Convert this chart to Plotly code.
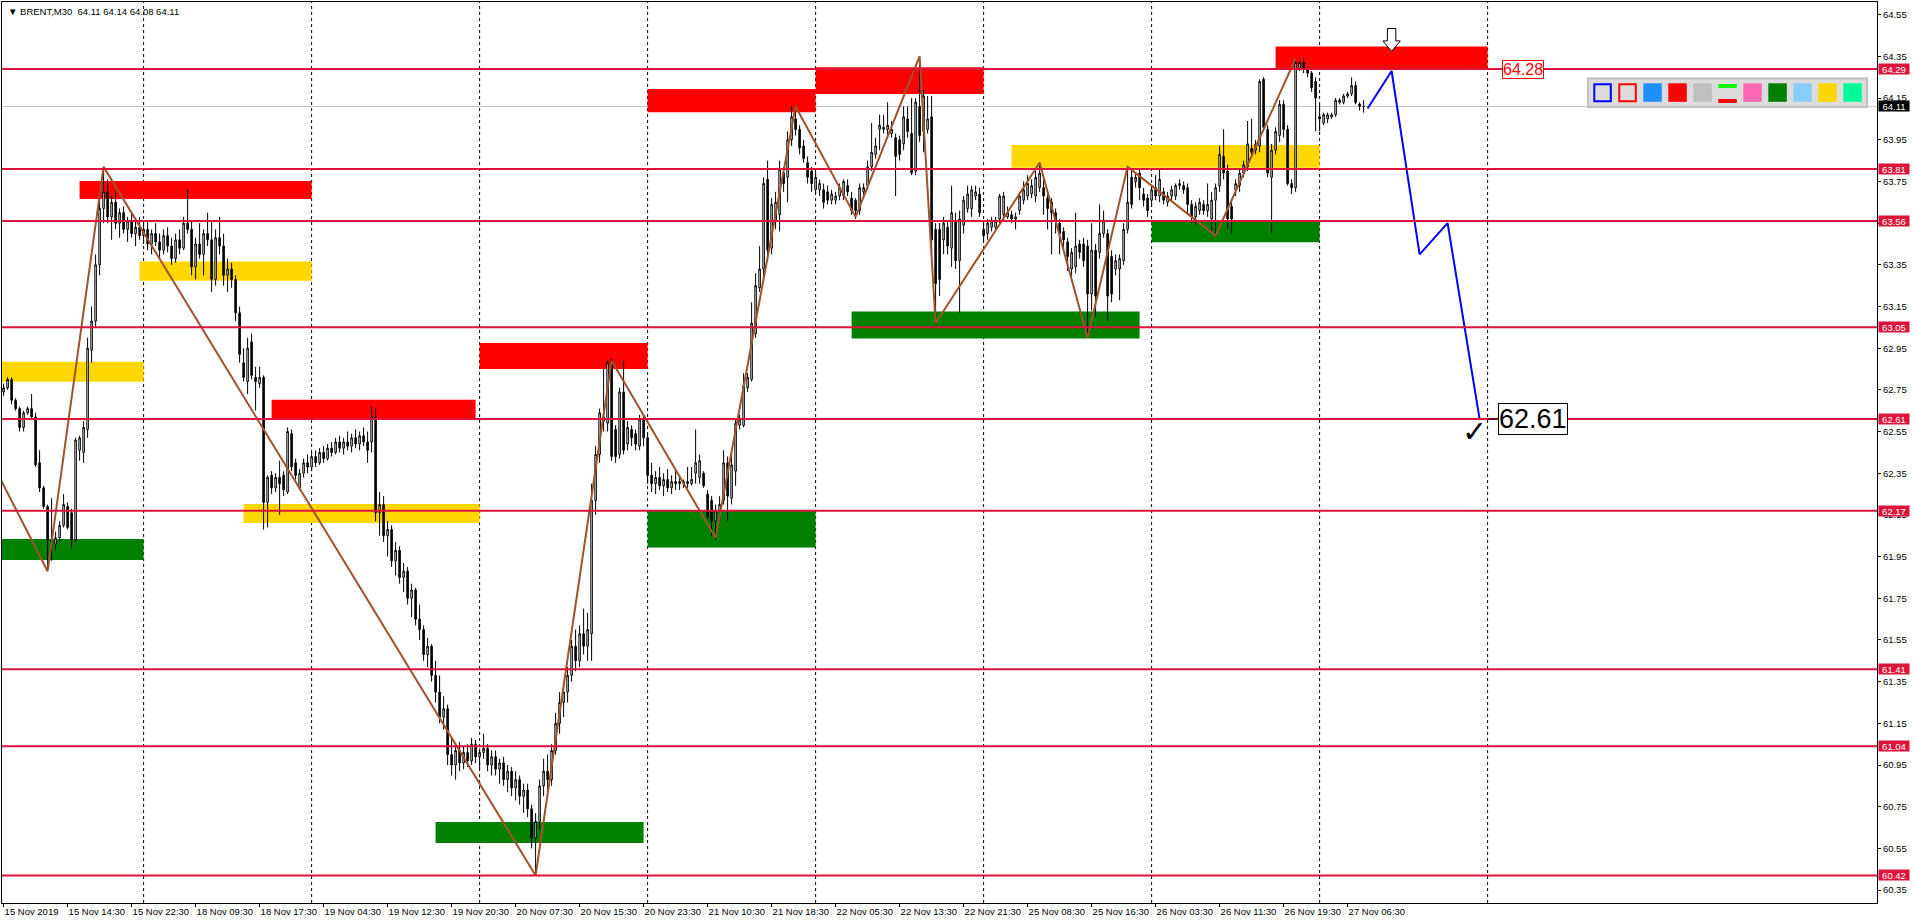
import plotly.graph_objects as go

# ---------------- data ----------------
TITLE = "▼ BRENT,M30  64.11 64.14 64.08 64.11"
X_LABELS = ["15 Nov 2019", "15 Nov 14:30", "15 Nov 22:30", "18 Nov 09:30", "18 Nov 17:30",
            "19 Nov 04:30", "19 Nov 12:30", "19 Nov 20:30", "20 Nov 07:30", "20 Nov 15:30",
            "20 Nov 23:30", "21 Nov 10:30", "21 Nov 18:30", "22 Nov 05:30", "22 Nov 13:30",
            "22 Nov 21:30", "25 Nov 08:30", "25 Nov 16:30", "26 Nov 03:30", "26 Nov 11:30",
            "26 Nov 19:30", "27 Nov 06:30"]

OPEN = [62.74, 62.76, 62.80, 62.70, 62.66, 62.57, 62.64, 62.66, 62.62, 62.40,
        62.28, 62.19, 62.03, 62.01, 62.04, 62.10, 62.19, 62.16, 62.03, 62.46,
        62.45, 62.56, 62.94, 63.08, 63.35, 63.62, 63.70, 63.58, 63.65, 63.55,
        63.60, 63.52, 63.56, 63.50, 63.53, 63.49, 63.52, 63.45, 63.50, 63.46,
        63.42, 63.49, 63.44, 63.38, 63.47, 63.43, 63.55, 63.52, 63.34, 63.45,
        63.40, 63.50, 63.47, 63.28, 63.48, 63.44, 63.30, 63.33, 63.28, 63.12,
        62.88, 62.79, 62.98, 62.81, 62.78, 62.81, 62.21, 62.34, 62.28, 62.33,
        62.34, 62.26, 62.54, 62.40, 62.28, 62.35, 62.40, 62.38, 62.43, 62.40,
        62.45, 62.42, 62.47, 62.45, 62.50, 62.47, 62.50, 62.48, 62.52, 62.49,
        62.53, 62.50, 62.50, 62.62, 62.16, 62.20, 62.05, 62.08, 61.93, 61.98,
        61.85, 61.88, 61.75, 61.79, 61.65, 61.60, 61.48, 61.52, 61.38, 61.30,
        61.18, 61.22, 61.00, 60.95, 61.02, 60.96, 61.01, 60.97, 61.05, 60.99,
        61.01, 61.03, 60.95, 60.99, 60.93, 60.96, 60.88, 60.92, 60.84, 60.88,
        60.80, 60.83, 60.74, 60.60, 60.68, 60.85, 60.92, 60.88, 61.02, 61.15,
        61.25, 61.30, 61.38, 61.52, 61.45, 61.58, 61.52, 61.58, 62.22, 62.44,
        62.60, 62.59, 62.89, 62.56, 62.44, 62.74, 62.49, 62.56, 62.54, 62.48,
        62.61, 62.52, 62.34, 62.30, 62.33, 62.29, 62.32, 62.28, 62.31, 62.30,
        62.31, 62.30, 62.30, 62.35, 62.33, 62.35, 62.25, 62.22, 62.12, 62.17,
        62.22, 62.40, 62.23, 62.36, 62.58, 62.58, 62.76, 62.80, 63.02, 63.24,
        63.33, 63.76, 63.43, 63.56, 63.59, 63.79, 63.77, 63.95, 64.05, 64.00,
        63.92, 63.84, 63.80, 63.71, 63.71, 63.71, 63.70, 63.66, 63.66, 63.68,
        63.68, 63.73, 63.67, 63.66, 63.61, 63.70, 63.73, 63.82, 63.88, 64.00,
        64.00, 64.00, 63.98, 63.96, 63.95, 63.93, 64.05, 63.98, 63.80, 64.11,
        63.99, 64.00, 64.06, 63.52, 63.52, 63.47, 63.53, 63.43, 63.56, 63.37,
        63.54, 63.62, 63.62, 63.68, 63.69, 63.52, 63.50, 63.53, 63.53, 63.57,
        63.59, 63.58, 63.59, 63.57, 63.61, 63.66, 63.68, 63.69, 63.68, 63.72,
        63.72, 63.67, 63.65, 63.60, 63.55, 63.51, 63.46, 63.33, 63.34, 63.45,
        63.45, 63.44, 63.21, 63.42, 63.41, 63.50, 63.50, 63.39, 63.33, 63.33,
        63.37, 63.52, 63.77, 63.75, 63.79, 63.69, 63.67, 63.66, 63.72, 63.68,
        63.70, 63.65, 63.68, 63.68, 63.73, 63.73, 63.72, 63.64, 63.58, 63.61,
        63.64, 63.61, 63.57, 63.66, 63.73, 63.87, 63.80, 63.63, 63.71, 63.73,
        63.79, 63.82, 63.91, 63.90, 63.92, 64.24, 64.00, 63.77, 63.90, 63.97,
        64.12, 64.00, 63.74, 63.72, 64.29, 64.32, 64.29, 64.27, 64.23, 64.06,
        64.03, 64.05, 64.06, 64.07, 64.14, 64.13, 64.16, 64.17, 64.21, 64.12, 64.11]

HIGH = [62.78, 62.81, 62.81, 62.71, 62.67, 62.65, 62.67, 62.73, 62.64, 62.46,
        62.29, 62.20, 62.23, 62.07, 62.12, 62.25, 62.21, 62.18, 62.52, 62.53,
        62.60, 63.00, 63.15, 63.40, 63.70, 63.82, 63.76, 63.68, 63.70, 63.62,
        63.63, 63.58, 63.60, 63.56, 63.58, 63.55, 63.56, 63.52, 63.55, 63.50,
        63.52, 63.53, 63.48, 63.50, 63.52, 63.58, 63.71, 63.56, 63.48, 63.55,
        63.52, 63.60, 63.56, 63.52, 63.58, 63.50, 63.38, 63.36, 63.30, 63.15,
        62.95, 63.00, 63.02, 62.86, 62.86, 62.82, 62.34, 62.36, 62.35, 62.41,
        62.36, 62.57, 62.56, 62.42, 62.37, 62.42, 62.44, 62.45, 62.46, 62.47,
        62.48, 62.49, 62.50, 62.52, 62.53, 62.52, 62.55, 62.54, 62.56, 62.55,
        62.57, 62.55, 62.67, 62.66, 62.26, 62.24, 62.12, 62.10, 62.02, 62.00,
        61.92, 61.90, 61.82, 61.80, 61.72, 61.62, 61.56, 61.53, 61.45, 61.38,
        61.28, 61.24, 61.08, 61.05, 61.06, 61.04, 61.05, 61.08, 61.07, 61.03,
        61.10, 61.05, 61.02, 61.02, 60.98, 60.99, 60.95, 60.94, 60.92, 60.90,
        60.86, 60.86, 60.76, 60.72, 60.88, 60.98, 61.00, 61.05, 61.20, 61.30,
        61.35, 61.42, 61.55, 61.60, 61.62, 61.70, 61.68, 62.30, 62.48, 62.66,
        62.85, 62.89, 62.90, 62.58, 62.76, 62.89, 62.60, 62.58, 62.56, 62.63,
        62.63, 62.54, 62.40, 62.36, 62.38, 62.35, 62.37, 62.34, 62.36, 62.34,
        62.32, 62.38, 62.38, 62.56, 62.44, 62.36, 62.27, 62.24, 62.20, 62.24,
        62.46, 62.43, 62.45, 62.61, 62.63, 62.83, 62.83, 63.17, 63.31, 63.44,
        63.77, 63.85, 63.67, 63.70, 63.85, 63.82, 63.99, 64.11, 64.11, 64.02,
        63.95, 63.87, 63.82, 63.80, 63.76, 63.74, 63.73, 63.71, 63.70, 63.74,
        63.76, 63.76, 63.70, 63.67, 63.74, 63.74, 63.85, 64.03, 63.96, 64.07,
        64.07, 64.13, 64.04, 63.98, 63.97, 64.11, 64.11, 64.15, 64.15, 64.35,
        64.19, 64.16, 64.16, 63.55, 63.55, 63.58, 63.56, 63.73, 63.60, 63.61,
        63.68, 63.73, 63.73, 63.73, 63.72, 63.55, 63.57, 63.58, 63.58, 63.69,
        63.70, 63.63, 63.61, 63.60, 63.70, 63.75, 63.78, 63.76, 63.80, 63.84,
        63.76, 63.69, 63.67, 63.62, 63.57, 63.53, 63.48, 63.43, 63.60, 63.47,
        63.48, 63.47, 63.55, 63.45, 63.64, 63.61, 63.52, 63.42, 63.40, 63.40,
        63.55, 63.82, 63.80, 63.79, 63.81, 63.72, 63.69, 63.73, 63.78, 63.81,
        63.72, 63.70, 63.73, 63.74, 63.76, 63.75, 63.74, 63.66, 63.65, 63.67,
        63.66, 63.74, 63.70, 63.74, 63.92, 64.00, 63.83, 63.65, 63.76, 63.81,
        63.85, 64.04, 64.05, 63.95, 64.24, 64.25, 64.02, 63.93, 64.01, 64.14,
        64.14, 64.02, 63.76, 64.34, 64.33, 64.34, 64.30, 64.28, 64.25, 64.12,
        64.08, 64.08, 64.08, 64.15, 64.15, 64.17, 64.18, 64.25, 64.23, 64.13, 64.14]

LOW = [62.72, 62.75, 62.68, 62.65, 62.55, 62.55, 62.63, 62.61, 62.38, 62.26,
       62.18, 61.89, 61.93, 61.98, 62.02, 62.09, 62.08, 61.99, 62.02, 62.41,
       62.40, 62.52, 62.88, 63.05, 63.30, 63.55, 63.55, 63.47, 63.52, 63.48,
       63.50, 63.46, 63.48, 63.44, 63.47, 63.45, 63.42, 63.40, 63.44, 63.38,
       63.40, 63.41, 63.35, 63.36, 63.40, 63.42, 63.50, 63.30, 63.28, 63.38,
       63.30, 63.44, 63.22, 63.25, 63.40, 63.25, 63.22, 63.24, 63.08, 62.88,
       62.79, 62.73, 62.80, 62.65, 62.76, 62.08, 62.09, 62.25, 62.26, 62.15,
       62.24, 62.25, 62.36, 62.32, 62.27, 62.33, 62.35, 62.36, 62.38, 62.39,
       62.40, 62.41, 62.43, 62.44, 62.45, 62.44, 62.46, 62.45, 62.47, 62.46,
       62.48, 62.40, 62.45, 62.12, 62.05, 62.02, 61.95, 61.90, 61.86, 61.82,
       61.78, 61.72, 61.66, 61.62, 61.55, 61.45, 61.42, 61.35, 61.25, 61.15,
       61.12, 60.95, 60.90, 60.88, 60.92, 60.93, 60.94, 60.95, 60.96, 60.93,
       60.98, 60.92, 60.90, 60.90, 60.86, 60.85, 60.82, 60.80, 60.78, 60.76,
       60.72, 60.70, 60.55, 60.42, 60.64, 60.80, 60.82, 60.85, 61.00, 61.10,
       61.18, 61.25, 61.35, 61.40, 61.42, 61.48, 61.45, 61.45, 62.15, 62.40,
       62.55, 62.55, 62.41, 62.40, 62.42, 62.44, 62.46, 62.48, 62.46, 62.46,
       62.48, 62.30, 62.26, 62.25, 62.27, 62.24, 62.26, 62.25, 62.27, 62.27,
       62.28, 62.28, 62.29, 62.30, 62.30, 62.28, 62.13, 62.05, 62.03, 62.12,
       62.20, 62.12, 62.20, 62.29, 62.56, 62.57, 62.74, 62.79, 63.00, 63.22,
       63.29, 63.37, 63.40, 63.52, 63.51, 63.70, 63.65, 63.92, 63.97, 63.88,
       63.84, 63.74, 63.70, 63.69, 63.68, 63.62, 63.64, 63.64, 63.64, 63.66,
       63.66, 63.68, 63.59, 63.57, 63.59, 63.68, 63.71, 63.80, 63.86, 63.90,
       63.98, 63.97, 63.96, 63.68, 63.85, 63.90, 63.96, 63.78, 63.78, 63.94,
       63.89, 63.98, 63.40, 63.07, 63.20, 63.40, 63.40, 63.34, 63.33, 63.12,
       63.50, 63.60, 63.58, 63.66, 63.58, 63.46, 63.47, 63.51, 63.52, 63.55,
       63.56, 63.57, 63.55, 63.52, 63.59, 63.64, 63.66, 63.67, 63.65, 63.70,
       63.59, 63.52, 63.40, 63.50, 63.40, 63.42, 63.32, 63.29, 63.31, 63.38,
       63.34, 63.00, 63.13, 63.10, 63.38, 63.48, 63.08, 63.17, 63.30, 63.18,
       63.35, 63.50, 63.62, 63.72, 63.66, 63.63, 63.58, 63.63, 63.66, 63.65,
       63.64, 63.63, 63.66, 63.66, 63.71, 63.69, 63.59, 63.55, 63.54, 63.59,
       63.59, 63.58, 63.50, 63.49, 63.70, 63.76, 63.52, 63.50, 63.68, 63.70,
       63.77, 63.80, 63.87, 63.88, 63.89, 63.99, 63.77, 63.50, 63.88, 63.94,
       63.96, 63.73, 63.69, 63.70, 64.28, 64.27, 64.25, 64.18, 63.99, 63.99,
       64.02, 64.03, 64.05, 64.06, 64.12, 64.12, 64.15, 64.16, 64.12, 64.09, 64.08]

CLOSE = [62.76, 62.80, 62.70, 62.66, 62.57, 62.64, 62.66, 62.62, 62.39, 62.28,
         62.19, 62.03, 62.02, 62.04, 62.10, 62.20, 62.09, 62.03, 62.51, 62.52,
         62.57, 62.95, 63.08, 63.35, 63.62, 63.70, 63.58, 63.65, 63.55, 63.60,
         63.52, 63.56, 63.50, 63.53, 63.49, 63.52, 63.45, 63.50, 63.46, 63.42,
         63.49, 63.44, 63.38, 63.47, 63.43, 63.55, 63.52, 63.34, 63.45, 63.40,
         63.50, 63.47, 63.28, 63.48, 63.44, 63.30, 63.33, 63.28, 63.12, 62.92,
         62.81, 62.95, 62.82, 62.79, 62.81, 62.21, 62.33, 62.28, 62.33, 62.30,
         62.27, 62.55, 62.38, 62.34, 62.35, 62.40, 62.38, 62.43, 62.40, 62.45,
         62.42, 62.47, 62.45, 62.50, 62.47, 62.50, 62.48, 62.52, 62.49, 62.53,
         62.50, 62.46, 62.62, 62.16, 62.20, 62.05, 62.08, 61.93, 61.98, 61.85,
         61.88, 61.75, 61.79, 61.65, 61.60, 61.48, 61.52, 61.38, 61.30, 61.18,
         61.22, 61.00, 60.95, 61.02, 60.96, 61.01, 60.97, 61.05, 60.99, 61.01,
         61.03, 60.95, 60.99, 60.93, 60.96, 60.88, 60.92, 60.84, 60.88, 60.80,
         60.83, 60.74, 60.60, 60.68, 60.85, 60.92, 60.88, 61.02, 61.15, 61.25,
         61.30, 61.38, 61.52, 61.45, 61.58, 61.52, 61.60, 62.22, 62.44, 62.64,
         62.62, 62.88, 62.43, 62.43, 62.74, 62.46, 62.57, 62.52, 62.49, 62.61,
         62.52, 62.34, 62.30, 62.33, 62.29, 62.32, 62.28, 62.31, 62.30, 62.31,
         62.30, 62.31, 62.32, 62.40, 62.41, 62.29, 62.14, 62.12, 62.17, 62.20,
         62.40, 62.24, 62.39, 62.59, 62.61, 62.77, 62.81, 63.07, 63.25, 63.33,
         63.74, 63.42, 63.64, 63.65, 63.81, 63.74, 63.95, 64.06, 64.00, 63.91,
         63.86, 63.77, 63.74, 63.77, 63.74, 63.65, 63.66, 63.69, 63.68, 63.72,
         63.75, 63.70, 63.61, 63.61, 63.72, 63.72, 63.82, 63.89, 63.92, 64.02,
         64.01, 64.02, 64.00, 63.87, 63.88, 64.06, 63.99, 63.79, 64.13, 63.97,
         64.16, 64.05, 63.47, 63.26, 63.28, 63.55, 63.44, 63.60, 63.37, 63.57,
         63.66, 63.69, 63.71, 63.70, 63.60, 63.49, 63.55, 63.56, 63.56, 63.68,
         63.68, 63.60, 63.57, 63.58, 63.68, 63.71, 63.74, 63.73, 63.77, 63.79,
         63.68, 63.62, 63.60, 63.56, 63.50, 63.47, 63.39, 63.41, 63.44, 63.41,
         63.37, 63.21, 63.42, 63.20, 63.50, 63.56, 63.20, 63.21, 63.37, 63.38,
         63.52, 63.65, 63.64, 63.77, 63.72, 63.66, 63.61, 63.71, 63.68, 63.76,
         63.66, 63.68, 63.71, 63.73, 63.74, 63.71, 63.64, 63.58, 63.63, 63.65,
         63.61, 63.64, 63.66, 63.72, 63.88, 63.79, 63.57, 63.57, 63.74, 63.79,
         63.83, 63.93, 63.89, 63.93, 64.23, 64.01, 63.79, 63.90, 63.99, 64.12,
         64.00, 63.74, 63.72, 64.32, 64.32, 64.29, 64.27, 64.20, 64.15, 64.05,
         64.07, 64.07, 64.07, 64.14, 64.13, 64.16, 64.17, 64.21, 64.13, 64.11, 64.11]

LEVELS = [64.29, 63.81, 63.56, 63.05, 62.61, 62.17, 61.41, 61.04, 60.42]
BID = 64.11

# zones: start bar, end bar, low price, high price, kind
ZONE_X0 = [-1, -1, 19, 34, 67, 60, 119, 108, 161, 161, 203, 212, 252, 287, 318]
ZONE_X1 = [35, 35, 77, 77, 118, 119, 161, 160, 203, 203, 245, 284, 329, 329, 371]
ZONE_LO = [62.789, 61.934, 63.666, 63.273, 62.614, 62.111, 62.850, 60.576, 61.994, 64.082,
           64.169, 62.997, 63.816, 63.458, 64.288]
ZONE_HI = [62.885, 62.035, 63.752, 63.366, 62.702, 62.203, 62.975, 60.677, 62.170, 64.193,
           64.298, 63.126, 63.925, 63.565, 64.397]
ZONE_KIND = ["gold", "green", "red", "gold", "red", "gold", "red", "green", "green", "red",
             "red", "green", "gold", "green", "red"]

ZIG_X = [-5, 11, 25, 133, 152, 178, 198, 213, 229, 233, 259, 271, 281, 303, 323]
ZIG_Y = [62.48, 61.88, 63.82, 60.42, 62.89, 62.04, 64.11, 63.58, 64.35, 63.07, 63.84,
         63.00, 63.82, 63.49, 64.34]

PROJ_X = [341, 347, 354, 361, 369]
PROJ_Y = [64.10, 64.28, 63.40, 63.55, 62.61]

TARGET_TEXT = "62.61"
TARGET_BAR = 373.6
TOP_TEXT = "64.28"
TOP_BAR = 374.6

PALETTE = ["outline:#0000FF", "outline:#FF0000", "#1E90FF", "#FF0000", "#C0C0C0", "bars",
           "#FF69B4", "#008000", "#87CEFA", "#FFD700", "#00FA9A"]

# ---------------- styles ----------------
FONT = "Liberation Sans"
ZONE_COLORS = {"gold": "#FFD700", "green": "#008000", "red": "#FF0000"}
LEVEL_COLOR = "#DC143C"
X_RANGE = [-0.4, 468.35]
Y_RANGE = [60.288, 64.611]
GRID_START, GRID_STEP, GRID_COUNT = 35, 42, 9
LABEL_STEP = 16

fig = go.Figure()

fig.add_trace(go.Candlestick(
    x=list(range(len(CLOSE))), open=OPEN, high=HIGH, low=LOW, close=CLOSE,
    increasing=dict(line=dict(color="black", width=1), fillcolor="white"),
    decreasing=dict(line=dict(color="black", width=1), fillcolor="black"),
    whiskerwidth=0, showlegend=False, hoverinfo="skip"))

fig.add_trace(go.Scatter(x=ZIG_X, y=ZIG_Y, mode="lines",
                         line=dict(color="#A0522D", width=2), showlegend=False, hoverinfo="skip"))
fig.add_trace(go.Scatter(x=PROJ_X, y=PROJ_Y, mode="lines",
                         line=dict(color="#0000FF", width=2), showlegend=False, hoverinfo="skip"))

shapes = []
for k in range(GRID_COUNT):
    g = GRID_START + k * GRID_STEP
    shapes.append(dict(type="line", xref="x", yref="paper", x0=g, x1=g, y0=0, y1=1,
                       line=dict(color="black", width=1, dash="3px,3px"), layer="below"))
shapes.append(dict(type="line", xref="paper", yref="y", x0=0, x1=1, y0=BID, y1=BID,
                   line=dict(color="#C0C0C0", width=1), layer="below"))
for x0, x1, lo, hi, k in zip(ZONE_X0, ZONE_X1, ZONE_LO, ZONE_HI, ZONE_KIND):
    shapes.append(dict(type="rect", xref="x", yref="y", x0=x0, x1=x1, y0=lo, y1=hi,
                       fillcolor=ZONE_COLORS[k], line=dict(width=0), layer="below"))
for v in LEVELS:
    shapes.append(dict(type="line", xref="paper", yref="y", x0=0, x1=1, y0=v, y1=v,
                       line=dict(color=LEVEL_COLOR, width=2), layer="above"))
shapes.append(dict(type="path", xref="x", yref="y", xsizemode="pixel", ysizemode="pixel",
                   xanchor=PROJ_X[1], yanchor=64.43,
                   path="M -4.2,11.2 L 4.2,11.2 L 4.2,-1.2 L 8.7,-1.2 L 0,-11.5 L -8.7,-1.2 L -4.2,-1.2 Z",
                   fillcolor="white", line=dict(color="black", width=1), layer="above"))
shapes.append(dict(type="line", xref="x", yref="y", x0=PROJ_X[-1] + 2, x1=TARGET_BAR,
                   y0=PROJ_Y[-1], y1=PROJ_Y[-1], line=dict(color="black", width=1), layer="above"))


def pshape(x0, x1, y0, y1, fill, line_color=None, lw=0):
    return dict(type="rect", xref="paper", yref="paper", xsizemode="pixel", ysizemode="pixel",
                xanchor=1, yanchor=1, x0=x0, x1=x1, y0=y0, y1=y1, fillcolor=fill,
                line=dict(color=line_color or fill, width=lw), layer="above")


shapes.append(pshape(-289, -10, -76.5, -105, "#DCDCDC", "#C0C0C0", 2))
for i, item in enumerate(PALETTE):
    x0 = -283.7 + 25 * i
    x1 = x0 + 18.5
    if item.startswith("outline:"):
        shapes.append(pshape(x0 + 1, x1 - 1, -82.3, -99.3, "#DCDCDC", item.split(":")[1], 2))
    elif item == "bars":
        shapes.append(pshape(x0, x1, -82, -86, "#00FF00"))
        shapes.append(pshape(x0, x1, -97, -101, "#FF0000"))
    else:
        shapes.append(pshape(x0, x1, -81.3, -99.8, item))

annotations = []
annotations.append(dict(xref="paper", yref="paper", x=0, y=1, xanchor="left", yanchor="top",
                        xshift=4, yshift=-2, text=TITLE, showarrow=False,
                        font=dict(family=FONT, size=9.5, color="black")))
for v in LEVELS:
    annotations.append(dict(xref="paper", yref="y", x=1, y=v, xanchor="left", yanchor="middle",
                            xshift=1, text=f"{v:.2f}", showarrow=False, bgcolor=LEVEL_COLOR,
                            width=30, height=10, borderpad=0,
                            font=dict(family=FONT, size=9.5, color="white")))
annotations.append(dict(xref="paper", yref="y", x=1, y=BID, xanchor="left", yanchor="middle",
                        xshift=1, text=f"{BID:.2f}", showarrow=False, bgcolor="black",
                        width=30, height=10, borderpad=0,
                        font=dict(family=FONT, size=9.5, color="white")))
annotations.append(dict(xref="x", yref="y", x=TARGET_BAR, y=PROJ_Y[-1], xanchor="left",
                        yanchor="middle", text=TARGET_TEXT, showarrow=False, bgcolor="white",
                        bordercolor="black", borderwidth=1, borderpad=0,
                        font=dict(family=FONT, size=27, color="black")))
annotations.append(dict(xref="x", yref="y", x=TOP_BAR, y=64.287, xanchor="left",
                        yanchor="middle", text=TOP_TEXT, showarrow=False, bgcolor="white",
                        bordercolor="#FF0000", borderwidth=1, borderpad=0,
                        font=dict(family=FONT, size=16, color="#FF0000")))
annotations.append(dict(xref="x", yref="y", x=367.6, y=62.55, xanchor="center",
                        yanchor="middle", text="✓", showarrow=False,
                        font=dict(family="DejaVu Sans", size=30, color="black")))

fig.update_layout(
    width=1916, height=923,
    margin=dict(l=2, r=39, t=2, b=20, autoexpand=False),
    paper_bgcolor="white", plot_bgcolor="white",
    showlegend=False, boxgap=0.45,
    shapes=shapes, annotations=annotations,
    xaxis=dict(range=X_RANGE, tickmode="array",
               tickvals=[i * LABEL_STEP for i in range(len(X_LABELS))], ticktext=X_LABELS,
               ticks="outside", ticklen=3, tickcolor="black", tickangle=0,
               ticklabelposition="outside right",
               showgrid=False, zeroline=False, showline=True, linecolor="black", mirror=True,
               rangeslider=dict(visible=False), automargin=False,
               tickfont=dict(family=FONT, size=9.5, color="black")),
    yaxis=dict(range=Y_RANGE, side="right", tick0=60.35, dtick=0.2, tickformat=".2f",
               ticks="outside", ticklen=3, tickcolor="black", showgrid=False, zeroline=False,
               showline=True, linecolor="black", mirror=True, automargin=False,
               tickfont=dict(family=FONT, size=9.5, color="black")),
)

fig.write_html("out.html", config={"displayModeBar": False})
with open("out.html", "r", encoding="utf-8") as f:
    html = f.read()
html = html.replace("<body>", '<body style="margin:0;overflow:hidden">', 1)
with open("out.html", "w", encoding="utf-8") as f:
    f.write(html)
